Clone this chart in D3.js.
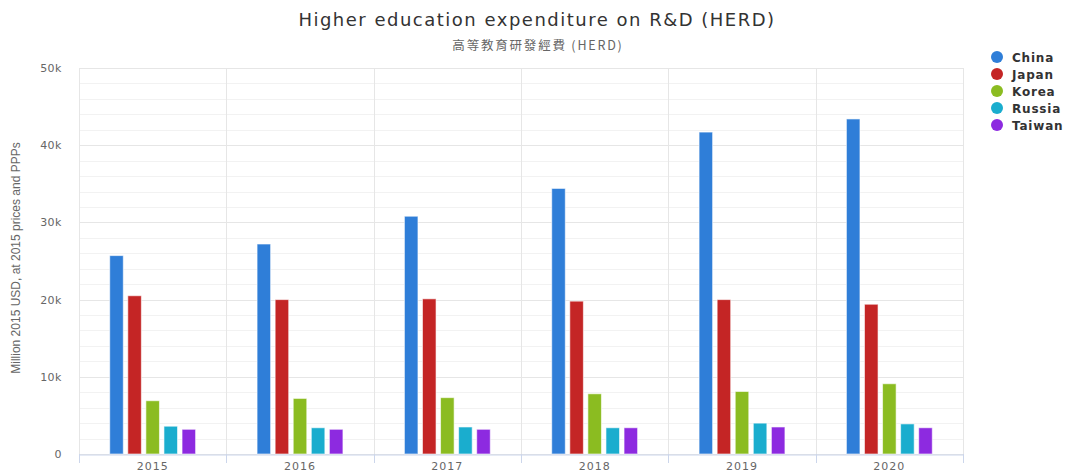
<!DOCTYPE html>
<html>
<head>
<meta charset="utf-8">
<script src="https://cdn.jsdelivr.net/npm/d3@7"></script>
<style>
  body { margin: 0; background: #fff; }
  text { font-family: "DejaVu Sans", sans-serif; }
</style>
</head>
<body>
<svg id="chart" width="1073" height="473"></svg>
<script>
const years = ['2015', '2016', '2017', '2018', '2019', '2020'];
const countries = ['China', 'Japan', 'Korea', 'Russia', 'Taiwan'];
const colors = ['#2f7ed8', '#c42525', '#8bbc21', '#1aadce', '#8d2ae0'];

const china = [25700, 27200, 30800, 34400, 41700, 43400];
const japan = [20500, 20000, 20100, 19800, 20000, 19400];
const korea = [6900, 7200, 7300, 7800, 8100, 9100];
const russia = [3600, 3400, 3500, 3400, 4000, 3900];
const taiwan = [3200, 3200, 3200, 3400, 3500, 3400];
const seriesValues = [china, japan, korea, russia, taiwan];

const yTicks = [0, 10000, 20000, 30000, 40000, 50000];
const yTickLabels = ['0', '10k', '20k', '30k', '40k', '50k'];

const svg = d3.select('#chart');
const margin = { top: 68, right: 110, bottom: 19, left: 79 };
const width = +svg.attr('width');
const height = +svg.attr('height');

const x = d3.scaleBand()
  .domain(years)
  .range([margin.left, width - margin.right]);

const xInner = d3.scaleBand()
  .domain(countries)
  .range([0, x.bandwidth()])
  .paddingInner(0.25)
  .paddingOuter(1.7);

const y = d3.scaleLinear()
  .domain([0, 50000])
  .range([height - margin.bottom, margin.top]);

// minor gridlines
svg.append('g')
  .selectAll('line')
  .data(d3.range(0, 50001, 2000))
  .join('line')
  .attr('x1', margin.left)
  .attr('x2', width - margin.right)
  .attr('y1', d => Math.round(y(d)) + 0.5)
  .attr('y2', d => Math.round(y(d)) + 0.5)
  .attr('stroke', d => d % 10000 === 0 ? '#e6e6e6' : '#f2f2f2')
  .attr('stroke-width', 1);

// vertical category gridlines
svg.append('g')
  .selectAll('line')
  .data(d3.range(years.length + 1))
  .join('line')
  .attr('x1', i => Math.round(margin.left + i * x.step()) + 0.5)
  .attr('x2', i => Math.round(margin.left + i * x.step()) + 0.5)
  .attr('y1', margin.top)
  .attr('y2', y(0))
  .attr('stroke', '#e6e6e6');

// y axis labels
svg.append('g')
  .selectAll('text')
  .data(yTicks)
  .join('text')
  .attr('x', 62)
  .attr('y', d => y(d) + 4)
  .attr('text-anchor', 'end')
  .attr('fill', '#666')
  .style('font-size', '11px')
  .style('letter-spacing', '0.5px')
  .text((d, i) => yTickLabels[i]);

// y axis title
svg.append('text')
  .attr('transform', `translate(20,258) rotate(-90)`)
  .attr('text-anchor', 'middle')
  .attr('fill', '#666')
  .style('font-family', '"Liberation Sans Narrow", "Liberation Sans", sans-serif')
  .style('font-size', '12px')
  .text('Million 2015 USD, at 2015 prices and PPPs');

// bars
const groups = svg.append('g')
  .selectAll('g')
  .data(years)
  .join('g')
  .attr('transform', d => `translate(${x(d)},0)`);

groups.selectAll('rect')
  .data((d, i) => countries.map((c, j) => ({ country: c, value: seriesValues[j][i], color: colors[j] })))
  .join('rect')
  .attr('x', d => xInner(d.country))
  .attr('y', d => y(d.value))
  .attr('width', xInner.bandwidth())
  .attr('height', d => y(0) - y(d.value))
  .attr('fill', d => d.color)
  .attr('stroke', '#fff')
  .attr('stroke-opacity', 0.6)
  .attr('stroke-width', 1);

// x axis
const xAxis = svg.append('g')
  .attr('transform', `translate(0,${y(0) + 0.5})`)
  .call(d3.axisBottom(x).tickSize(0).tickPadding(8));
xAxis.select('.domain').attr('stroke', '#ccd6eb');
xAxis.selectAll('text')
  .attr('fill', '#666')
  .style('font-size', '11px')
  .style('letter-spacing', '1px')
  .style('font-family', '"DejaVu Sans", sans-serif');

svg.append('g')
  .selectAll('line')
  .data(d3.range(years.length + 1))
  .join('line')
  .attr('x1', i => Math.round(margin.left + i * x.step()) + 0.5)
  .attr('x2', i => Math.round(margin.left + i * x.step()) + 0.5)
  .attr('y1', y(0))
  .attr('y2', y(0) + 9)
  .attr('stroke', '#ccd6eb');

// title and subtitle
svg.append('text')
  .attr('x', 537)
  .attr('y', 26)
  .attr('text-anchor', 'middle')
  .attr('fill', '#333')
  .style('font-size', '18px')
  .style('letter-spacing', '1.5px')
  .text('Higher education expenditure on R&D (HERD)');

svg.append('text')
  .attr('x', 538)
  .attr('y', 50)
  .attr('text-anchor', 'middle')
  .attr('fill', '#666')
  .style('font-size', '12.5px')
  .style('letter-spacing', '1.8px')
  .style('font-family', '"Noto Sans CJK TC", "DejaVu Sans", sans-serif')
  .text('高等教育研發經費 (HERD)');

// legend
const legend = svg.append('g')
  .selectAll('g')
  .data(countries)
  .join('g')
  .attr('transform', (d, i) => `translate(997,${57 + i * 17})`);

legend.append('circle')
  .attr('r', 6)
  .attr('fill', (d, i) => colors[i]);

legend.append('text')
  .attr('x', 15)
  .attr('y', 4.5)
  .attr('fill', '#333')
  .style('font-size', '12px')
  .style('font-weight', 'bold')
  .style('letter-spacing', '0.8px')
  .text(d => d);
</script>
</body>
</html>
